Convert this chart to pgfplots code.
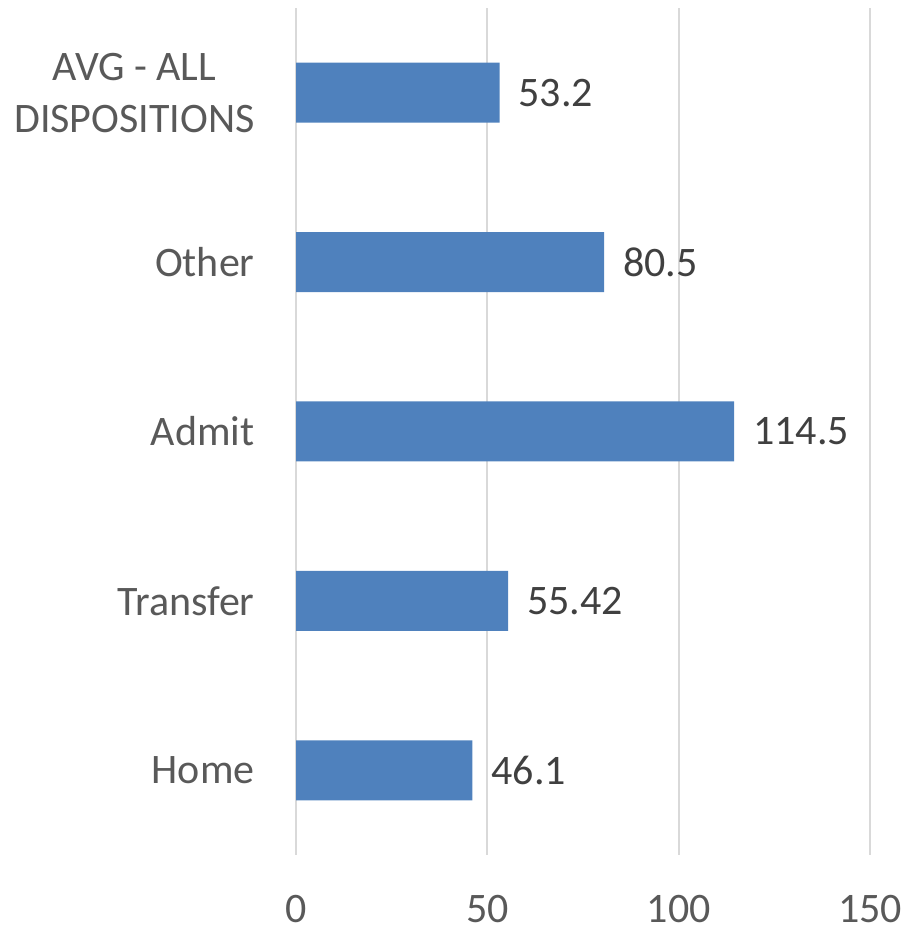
\documentclass[border=0pt]{standalone}
\usepackage{pgfplots}
\pgfplotsset{compat=1.18}
\usepackage{fontspec}
\setmainfont{Carlito}
\definecolor{barblue}{HTML}{4F81BD}
\definecolor{gridgray}{HTML}{D9D9D9}
\definecolor{ticktext}{HTML}{595959}
\definecolor{valtext}{HTML}{404040}
\begin{document}
\begin{tikzpicture}
\begin{axis}[
  at={(0,0)}, anchor=south west,
  scale only axis,
  width=287pt, height=423.5pt,
  xbar, bar width=30pt,
  xmin=0, xmax=150,
  ymin=-0.5, ymax=4.5,
  xtick={0,50,100,150},
  ytick={0,1,2,3,4},
  yticklabels={Home,Transfer,Admit,Other,{AVG - ALL\\DISPOSITIONS}},
  axis line style={draw=none},
  major tick length=0pt,
  xmajorgrids,
  major grid style={gridgray, line width=1pt},
  /pgf/number format/assume math mode=true,
  tick label style={font=\fontsize{21}{26}\selectfont, text=ticktext},
  xticklabel style={anchor=base, inner sep=0pt, yshift=-34pt},
  yticklabel style={align=center, anchor=east, inner sep=0pt, xshift=-20.5pt},
  nodes near coords,
  point meta=explicit symbolic,
  every node near coord/.append style={font=\fontsize{21}{25}\selectfont, text=valtext, anchor=west, xshift=6pt},
]
\addplot[fill=barblue, draw=none] coordinates {
  (46.1,0) [46.1]
  (55.42,1) [55.42]
  (114.5,2) [114.5]
  (80.5,3) [80.5]
  (53.2,4) [53.2]
};
\end{axis}
\pgfresetboundingbox
\useasboundingbox (-148pt,-37pt) rectangle (302pt,427.5pt);
\end{tikzpicture}
\end{document}
